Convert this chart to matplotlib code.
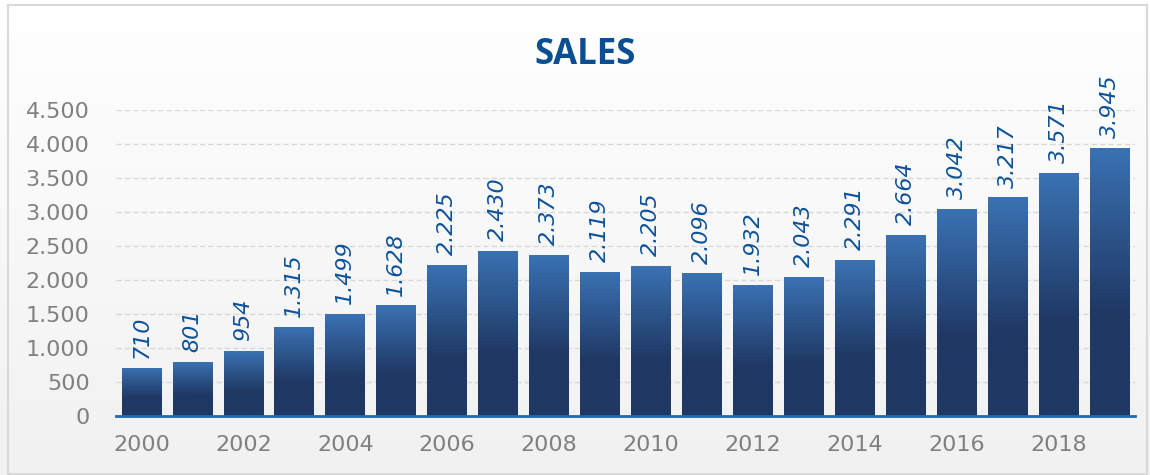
import numpy as np
import matplotlib
matplotlib.use("Agg")
import matplotlib.pyplot as plt
from matplotlib.colors import LinearSegmentedColormap
from matplotlib.patches import Rectangle

years = list(range(2000, 2020))
sales = [710, 801, 954, 1315, 1499, 1628, 2225, 2430, 2373, 2119,
         2205, 2096, 1932, 2043, 2291, 2664, 3042, 3217, 3571, 3945]
yticks = [0, 500, 1000, 1500, 2000, 2500, 3000, 3500, 4000, 4500]
xtick_years = list(range(2000, 2020, 2))

W, H = 1150, 475
fig = plt.figure(figsize=(W / 100, H / 100), dpi=100)

# background gradient
bg = fig.add_axes([0, 0, 1, 1], zorder=-10)
grad = np.linspace(0, 1, 256).reshape(-1, 1)
bg_cmap = LinearSegmentedColormap.from_list("bg", ["#f1f1f1", "#ffffff"])
bg.imshow(grad, aspect="auto", cmap=bg_cmap, origin="lower", extent=[0, 1, 0, 1])
bg.set_xlim(0, 1); bg.set_ylim(0, 1)
bg.axis("off")
bg.add_patch(Rectangle((8 / W, 1 - 474 / H), (1147 - 8) / W, (474 - 5) / H,
                       fill=False, edgecolor="#d9d9d9", lw=1.5))

ax = fig.add_axes([116 / W, 1 - 416 / H, (1135 - 116) / W, (416 - 110) / H])
ax.set_facecolor("none")

x = np.arange(len(years))
bars = ax.bar(x, sales, width=0.78, color="none", edgecolor="none", zorder=3)

bar_cmap = LinearSegmentedColormap.from_list(
    "bar", [(0, "#1f3864"), (0.38, "#1f3864"), (1, "#3a72b3")])
g = np.linspace(0, 1, 256).reshape(-1, 1)
for b in bars:
    x0, y0 = b.get_x(), b.get_y()
    w, h = b.get_width(), b.get_height()
    im = ax.imshow(g, aspect="auto", cmap=bar_cmap, origin="lower",
                   extent=[x0, x0 + w, y0, y0 + h], zorder=3)
    im.set_clip_path(b)

ax.set_xlim(-0.5, len(years) - 0.5)
ax.set_ylim(0, 4500)

for xi, v in zip(x, sales):
    lbl = f"{v:,}".replace(",", ".")
    ax.annotate(lbl, (xi, v), xytext=(0, 7), textcoords="offset points",
                rotation=90, ha="center", va="bottom", fontsize=16,
                style="italic", color="#0d5299", annotation_clip=False)

ax.set_yticks(yticks)
ax.set_yticklabels([f"{t:,}".replace(",", ".") for t in yticks])
ax.set_xticks([years.index(yv) for yv in xtick_years])
ax.set_xticklabels([str(yv) for yv in xtick_years])
ax.tick_params(axis="y", length=0, pad=19, labelsize=16, labelcolor="#808080")
ax.tick_params(axis="x", length=0, pad=14, labelsize=16, labelcolor="#808080")

ax.grid(axis="y", color="#d9d9d9", linestyle=(0, (4, 2)), lw=1, zorder=0)
ax.set_axisbelow(True)
for s in ["top", "right", "left"]:
    ax.spines[s].set_visible(False)
ax.spines["bottom"].set_color("#1f6ab3")
ax.spines["bottom"].set_linewidth(2)
ax.spines["bottom"].set_zorder(4)

fig.text(585 / W, 1 - 55 / H, "SALES", ha="center", va="center",
         fontsize=25, fontweight="bold", color="#0b4f92", family="Open Sans")

fig.savefig("out.png", dpi=100)
